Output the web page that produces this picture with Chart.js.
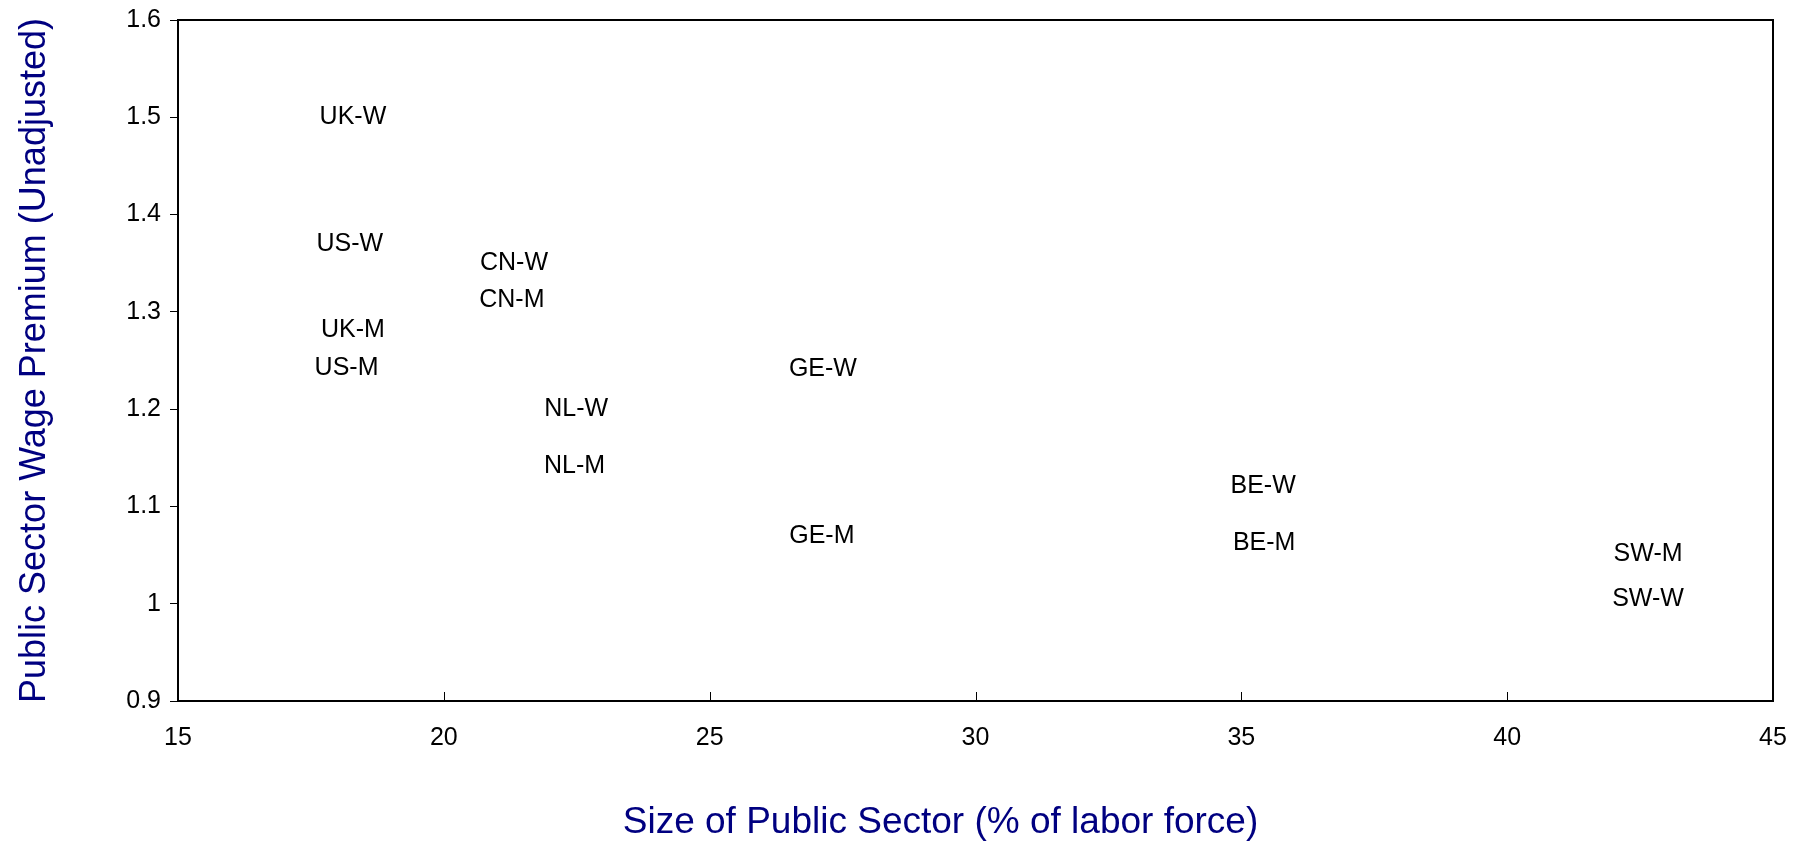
<!DOCTYPE html>
<html>
<head>
<meta charset="utf-8">
<script src="https://cdn.jsdelivr.net/npm/chart.js@4.4.1/dist/chart.umd.min.js"></script>
<style>
  html, body { margin: 0; padding: 0; background: #fff; }
  #wrap { width: 1810px; height: 845px; }
</style>
</head>
<body>
<div id="wrap"><canvas id="myChart" width="1810" height="845"></canvas></div>
<script>
const groups = ["UK-W", "US-W", "CN-W", "CN-M", "UK-M", "US-M", "NL-W", "NL-M", "GE-W", "GE-M", "BE-W", "BE-M", "SW-M", "SW-W"];
const sectorSize = [18.29, 18.23, 21.32, 21.28, 18.29, 18.17, 22.49, 22.46, 27.13, 27.11, 35.41, 35.43, 42.65, 42.65];
const wagePremium = [1.50, 1.37, 1.35, 1.312, 1.281, 1.242, 1.20, 1.141, 1.241, 1.070, 1.121, 1.062, 1.051, 1.005];
const xTicks = [15, 20, 25, 30, 35, 40, 45];
const yTicks = [0.9, 1.0, 1.1, 1.2, 1.3, 1.4, 1.5, 1.6];
const xTitle = "Size of Public Sector (% of labor force)";
const yTitle = "Public Sector Wage Premium (Unadjusted)";

const font = "'Liberation Sans', Arial, sans-serif";
const points = groups.map((g, i) => ({ x: sectorSize[i], y: wagePremium[i], label: g }));

// group names at the points, plot frame, inward x ticks and the x title
const labelPlugin = {
  id: "labels",
  afterDatasetsDraw(chart) {
    const ctx = chart.ctx;
    const meta = chart.getDatasetMeta(0);
    ctx.save();
    ctx.font = "25px " + font;
    ctx.fillStyle = "#000";
    ctx.textAlign = "center";
    ctx.textBaseline = "middle";
    meta.data.forEach((el, i) => {
      ctx.fillText(points[i].label, el.x, el.y);
    });
    ctx.restore();
  },
  afterDraw(chart) {
    const { ctx, chartArea: a, scales } = chart;
    ctx.save();
    ctx.strokeStyle = "#000";
    ctx.lineWidth = 1;
    ctx.beginPath();
    xTicks.forEach(v => {
      const px = Math.round(scales.x.getPixelForValue(v)) + 0.5;
      ctx.moveTo(px, a.bottom);
      ctx.lineTo(px, a.bottom - 9);
    });
    ctx.stroke();
    ctx.lineWidth = 2;
    ctx.strokeRect(a.left, a.top, a.right - a.left, a.bottom - a.top);

    ctx.font = "37px " + font;
    ctx.fillStyle = "#000080";
    ctx.textAlign = "center";
    ctx.textBaseline = "middle";
    ctx.fillText(xTitle, (a.left + a.right) / 2 - 35, 823);
    ctx.restore();
  }
};

const config = {
  type: "scatter",
  data: {
    datasets: [{
      data: points,
      pointRadius: 0,
      pointHoverRadius: 0,
      showLine: false
    }]
  },
  options: {
    responsive: false,
    animation: false,
    events: [],
    layout: { padding: { left: 0, right: 37, top: 20, bottom: 0 } },
    plugins: { legend: { display: false }, tooltip: { enabled: false } },
    scales: {
      x: {
        type: "linear",
        min: 15,
        max: 45,
        afterBuildTicks: s => { s.ticks = xTicks.map(v => ({ value: v })); },
        afterFit: s => { s.height = 144; },
        grid: { display: true, drawOnChartArea: false, drawTicks: false },
        border: { display: false },
        ticks: { color: "#000", font: { family: font, size: 25 }, padding: 22, maxRotation: 0 },
        title: { display: false }
      },
      y: {
        type: "linear",
        min: 0.9,
        max: 1.6,
        afterBuildTicks: s => { s.ticks = yTicks.map(v => ({ value: v })); },
        afterFit: s => { s.width = 178; s.paddingTop = 0; },
        grid: { display: true, drawOnChartArea: false, drawTicks: true, tickLength: 8, color: "#000" },
        border: { display: false },
        ticks: {
          color: "#000",
          font: { family: font, size: 25 },
          padding: 9,
          callback: v => String(+v.toFixed(1))
        },
        title: {
          display: true,
          text: yTitle,
          color: "#000080",
          font: { family: font, size: 36 },
          padding: { top: 13, bottom: 0 }
        }
      }
    }
  },
  plugins: [labelPlugin]
};

var myChart = new Chart(document.getElementById("myChart"), config);
</script>
</body>
</html>
